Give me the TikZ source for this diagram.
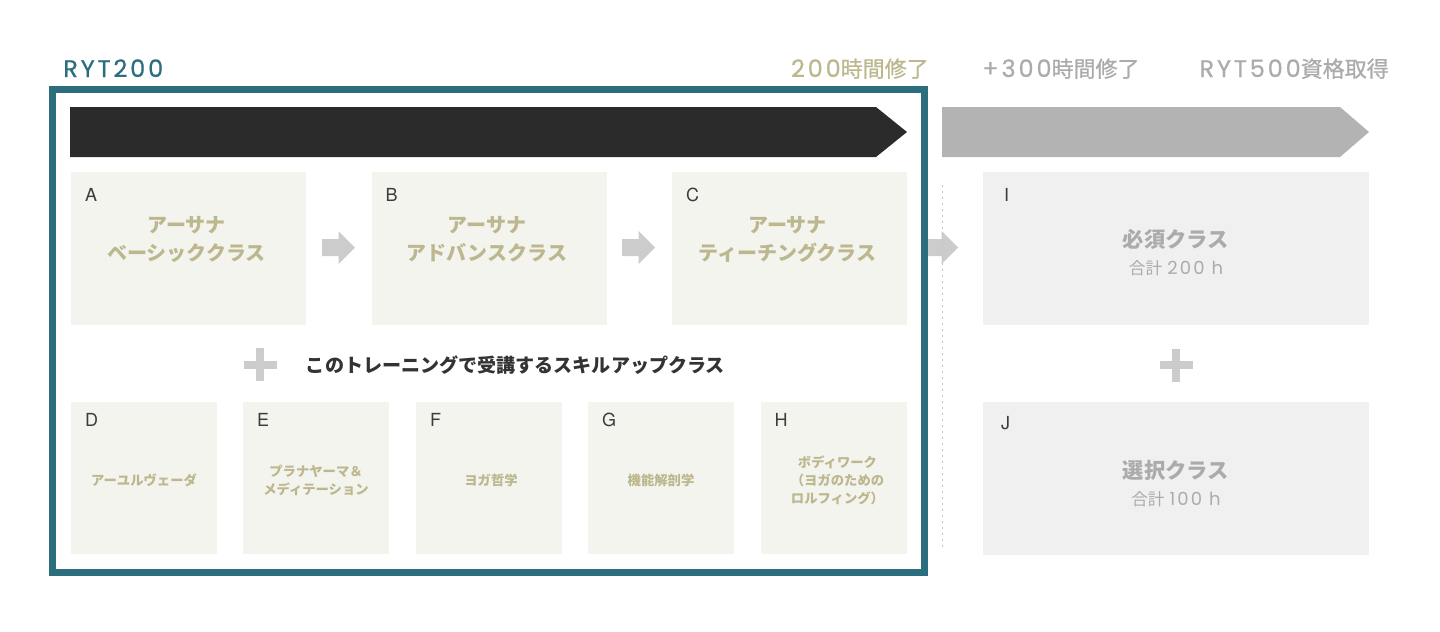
\documentclass[tikz,border=0pt]{standalone}
\usepackage{fontspec}
\setmainfont{Noto Sans CJK JP}
\newfontfamily\lat{Poppins}[LetterSpace=12]
\newfontfamily\latb{Poppins}[LetterSpace=12,FakeBold=0.6]
\newfontfamily\cjkmed{Noto Sans CJK JP}[FakeBold=0.8]
\newfontfamily\helplain{TeX Gyre Heros}
\usetikzlibrary{calc}
\definecolor{teal1}{HTML}{2D6E7E}
\definecolor{olive1}{HTML}{BCB78E}
\definecolor{beige1}{HTML}{F4F4EE}
\definecolor{gray1}{HTML}{F0F0F0}
\definecolor{grayt}{HTML}{ABABAB}
\definecolor{arrowg}{HTML}{CCCCCC}
\definecolor{barblack}{HTML}{2B2B2B}
\definecolor{bargray}{HTML}{B3B3B3}
\definecolor{lettc}{HTML}{3C3C3C}
\definecolor{dotg}{HTML}{C4C4C4}
\newcommand\myblockarrow[2]{%
  \fill[arrowg] ($(#1)+(-#2,-8.5)$) -- ($(#1)+(0,-8.5)$) -- ($(#1)+(0,-16.5)$)
    -- ($(#1)+(16.5,0)$) -- ($(#1)+(0,16.5)$) -- ($(#1)+(0,8.5)$)
    -- ($(#1)+(-#2,8.5)$) -- cycle;}
\newcommand\myplus[1]{%
  \draw[arrowg, line width=6pt] ($(#1)+(-16.5,0)$) -- ($(#1)+(16.5,0)$);
  \draw[arrowg, line width=6pt] ($(#1)+(0,-16.5)$) -- ($(#1)+(0,16.5)$);}
\newcommand\myhl[1]{{\latb\fontsize{18}{22}\selectfont #1}}
\newcommand\mysl[1]{{\lat\fontsize{13.5}{15}\selectfont #1}}
\begin{document}
\begin{tikzpicture}[x=0.75pt,y=-0.75pt,
  topbox/.style={fill=beige1, draw=none, minimum width=176.25pt, minimum height=114.75pt, inner sep=0},
  smallbox/.style={fill=beige1, draw=none, minimum width=109.5pt, minimum height=114pt, inner sep=0},
  rbox/.style={fill=gray1, draw=none, minimum width=289.5pt, minimum height=114.75pt, inner sep=0},
  lett/.style={font=\helplain\fontsize{13.5}{16}\selectfont, text=lettc, anchor=base west, inner sep=0},
  maintxt/.style={font=\bfseries\fontsize{15}{21}\selectfont, text=olive1, align=center, inner sep=0},
  subtxt/.style={font=\bfseries\fontsize{10}{13.5}\selectfont, text=olive1, align=center, inner sep=0},
  rmain/.style={font=\bfseries\fontsize{16}{20}\selectfont, text=grayt, inner sep=0},
  rsub/.style={font=\fontsize{12.5}{15}\selectfont, text=grayt, inner sep=0},
  head/.style={font=\cjkmed\fontsize{16.5}{22}\selectfont, inner sep=0},
]
\useasboundingbox (0,0) rectangle (1440,632);

% header labels
\node[head, text=teal1, anchor=base west] (ryt) at (63,77) {\myhl{RYT200}};
\node[head, text=olive1, anchor=base east] (h200) at (929,77) {\myhl{200}時間修了};
\node[head, text=grayt, anchor=base west] (h300) at (982,77) {\myhl{+300}時間修了};
\node[head, text=grayt, anchor=base east] (h500) at (1389,77) {\myhl{RYT500}資格取得};

% big bars
\fill[barblack] (70,107) -- (876,107) -- (907,132) -- (876,157) -- (70,157) -- cycle;
\fill[bargray] (942,107) -- (1340,107) -- (1369,132) -- (1340,157) -- (942,157) -- cycle;

% top boxes
\node[topbox] (A) at (188.5,248.5) {};
\node[topbox] (B) at (489,248.5) {};
\node[topbox] (C) at (789.5,248.5) {};
\node[lett] (Al) at ($(A.north west)+(14,30)$) {A};
\node[lett] (Bl) at ($(B.north west)+(14,30)$) {B};
\node[lett] (Cl) at ($(C.north west)+(14,30)$) {C};
\node[maintxt] (At) at ($(A.center)+(-2,-9.5)$) {アーサナ\\ベーシッククラス};
\node[maintxt] (Bt) at ($(B.center)+(-2,-9.5)$) {アーサナ\\アドバンスクラス};
\node[maintxt] (Ct) at ($(C.center)+(-2,-9.5)$) {アーサナ\\ティーチングクラス};

% right boxes
\node[rbox] (I) at (1176,248.5) {};
\node[rbox] (J) at (1176,478) {};
\node[lett] (Il) at ($(I.north west)+(21,30)$) {I};
\node[lett] (Jl) at ($(J.north west)+(18,28)$) {J};
\node[rmain] (It) at ($(I.center)+(0,-9.5)$) {必須クラス};
\node[rsub] (Is) at ($(I.center)+(0,19.5)$) {合計\hspace{0.3em}\mysl{200 h}};
\node[rmain] (Jt) at ($(J.center)+(0,-8)$) {選択クラス};
\node[rsub] (Js) at ($(J.center)+(0,21)$) {合計\hspace{0.3em}\mysl{100 h}};

% small block arrows
\coordinate (m1) at (338.5,247.5);
\coordinate (m2) at (638.5,247.5);
\coordinate (m3) at (941.5,247.5);
\myblockarrow{m1}{16.5}
\myblockarrow{m2}{16.5}
\myblockarrow{m3}{20}

% dotted separator
\coordinate (d1) at (942,185);
\coordinate (d2) at (942,550);
\draw[dotg, line width=0.6pt, dash pattern=on 1.5pt off 3pt] (d1) -- (d2);

% frame
\draw[teal1, line width=5.25pt] (52.5,89.5) rectangle (924.5,572.5);

% plus and middle text
\coordinate (p1) at (260,364.5);
\coordinate (p2) at (1176,365);
\myplus{p1}
\myplus{p2}
\node[font=\bfseries\fontsize{14.3}{18}\selectfont, text=black!80, inner sep=0] (skill) at (515.5,365) {このトレーニングで受講するスキルアップクラス};

% bottom boxes
\node[smallbox] (D) at (144,478) {};
\node[smallbox] (E) at (316,478) {};
\node[smallbox] (F) at (489,478) {};
\node[smallbox] (G) at (661,478) {};
\node[smallbox] (H) at (833.5,478) {};
\foreach \b in {D,E,F,G,H}{
  \node[lett] (\b l) at ($(\b.north west)+(14,25)$) {\b};
}
\node[subtxt] (Dt) at ($(D.center)+(0,2)$) {アーユルヴェーダ};
\node[subtxt] (Et) at ($(E.center)+(0,2.5)$) {プラナヤーマ＆\\メディテーション};
\node[subtxt] (Ft) at ($(F.center)+(2,2)$) {ヨガ哲学};
\node[subtxt] (Gt) at ($(G.center)+(0,2)$) {機能解剖学};
\node[subtxt] (Ht) at ($(H.center)+(4,2.5)$) {ボディワーク\\（ヨガのための\\ロルフィング）};
\end{tikzpicture}
\end{document}
